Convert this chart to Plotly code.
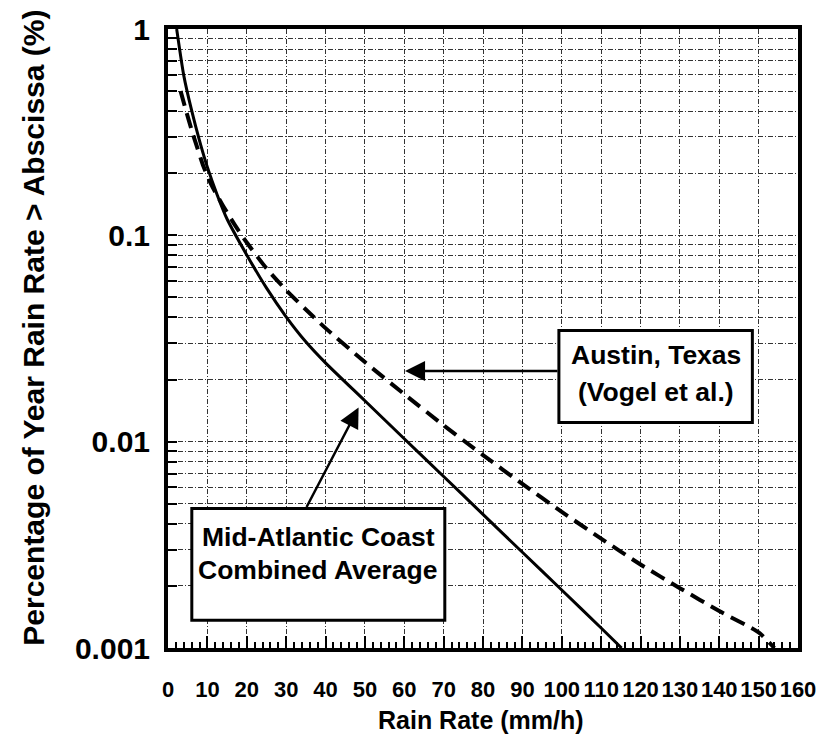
import plotly.graph_objects as go

# Mid-Atlantic Coast combined average (solid)
mid_x = [2.2, 4, 6, 8, 10, 12.5, 15, 20, 25, 30, 35, 40, 50, 60, 70, 80, 90, 100, 110, 115.2]
mid_y = [1.0, 0.596, 0.403, 0.288, 0.214, 0.157, 0.120, 0.0804, 0.0556, 0.0403, 0.0305, 0.0241,
         0.01578, 0.01033, 0.00678, 0.00444, 0.00291, 0.00191, 0.00125, 0.00100]

# Austin, Texas (Vogel et al.) (dashed)
aus_x = [3.2, 4.5, 6, 7, 9, 11, 13.6, 17, 20, 25, 30, 35, 40, 50, 60, 70, 80, 90, 100, 110, 120, 130, 140, 150, 154]
aus_y = [0.50, 0.407, 0.324, 0.282, 0.216, 0.176, 0.143, 0.112, 0.0923, 0.0692, 0.0543, 0.0437, 0.0355,
         0.0243, 0.0170, 0.0120, 0.00861, 0.00624, 0.00457, 0.00339, 0.00254, 0.00195, 0.00151, 0.00119, 0.00100]

x_ticks = list(range(0, 161, 10))
x_ticktext = [str(v) for v in x_ticks]
y_major = [0.001, 0.01, 0.1, 1]
y_major_text = ["0.001", "0.01", "0.1", "1"]
y_ticks = [m * 10 ** e for e in (-3, -2, -1) for m in range(1, 10)] + [1]
y_ticktext = [y_major_text[y_major.index(v)] if v in y_major else "" for v in y_ticks]

FONT = "Liberation Sans, Arial, sans-serif"
L, R, T, B = 168, 25, 22, 101
W, H = 828, 749
PW, PH = W - L - R, H - T - B


def px(xp):
    return (xp - L) / PW


def py(yp):
    return (H - B - yp) / PH


fig = go.Figure()
fig.add_trace(go.Scatter(x=mid_x, y=mid_y, mode="lines",
                         line=dict(color="black", width=3, shape="spline", smoothing=0.6),
                         showlegend=False))
fig.add_trace(go.Scatter(x=aus_x, y=aus_y, mode="lines",
                         line=dict(color="black", width=4, dash="15px,8px", shape="spline", smoothing=0.6),
                         showlegend=False))

grid = dict(gridcolor="#333", gridwidth=1, griddash="5px,2px,1px,2px")

fig.update_xaxes(range=[0, 160], tickvals=x_ticks, ticktext=x_ticktext, ticks="inside", ticklen=12,
                 tickwidth=2, tickcolor="black", showline=True, linecolor="black", linewidth=4, mirror=True,
                 showgrid=True, zeroline=False, ticklabelstandoff=19,
                 tickfont=dict(family=FONT, size=22, color="black", weight="bold"),
                 minor=dict(dtick=2, ticks="inside", ticklen=6, tickwidth=1.5, tickcolor="black", showgrid=False),
                 **grid)
fig.update_yaxes(type="log", range=[-3, 0], tickvals=y_ticks, ticktext=y_ticktext, ticks="inside", ticklen=9,
                 tickwidth=2, tickcolor="black", showline=True, linecolor="black", linewidth=4, mirror=True,
                 showgrid=True, zeroline=False, ticklabelstandoff=8,
                 tickfont=dict(family=FONT, size=30, color="black", weight="bold"),
                 **grid)

# label boxes
fig.add_shape(type="rect", xref="paper", yref="paper", x0=px(562), x1=px(757), y0=py(420), y1=py(327),
              line=dict(color="black", width=3), fillcolor="white", layer="above")
fig.add_shape(type="rect", xref="paper", yref="paper", x0=px(192), x1=px(447), y0=py(620), y1=py(507),
              line=dict(color="black", width=3), fillcolor="white", layer="above")

box_font = dict(family=FONT, size=26.5, color="black", weight="bold")
for text, xc, yc in [("Austin, Texas", 660, 352), ("(Vogel et al.)", 660, 389),
                     ("Mid-Atlantic Coast", 319.5, 536), ("Combined Average", 319.5, 569)]:
    fig.add_annotation(x=px(xc), y=py(yc), xref="paper", yref="paper", text=text, showarrow=False,
                       font=box_font, xanchor="center", yanchor="middle")

# arrows
fig.add_annotation(x=60.2, y=-1.658, xref="x", yref="y", ax=99.3, ay=-1.658, axref="x", ayref="y",
                   text="", showarrow=True, arrowhead=2, arrowsize=1.6, arrowwidth=2.5, arrowcolor="black")
fig.add_annotation(x=48.4, y=-1.835, xref="x", yref="y", ax=35.0, ay=-2.324, axref="x", ayref="y",
                   text="", showarrow=True, arrowhead=2, arrowsize=1.6, arrowwidth=2.5, arrowcolor="black")

# axis titles
fig.add_annotation(x=px(483), y=py(721), xref="paper", yref="paper", text="Rain Rate (mm/h)", showarrow=False,
                   font=dict(family=FONT, size=25, color="black", weight="bold"), yanchor="middle")
fig.add_annotation(x=px(33), y=py(324), xref="paper", yref="paper",
                   text="Percentage of Year Rain Rate &gt; Abscissa (%)", showarrow=False, textangle=-90,
                   font=dict(family=FONT, size=30, color="black", weight="bold"), xanchor="center", yanchor="middle")

fig.update_layout(width=W, height=H, margin=dict(l=L, r=R, t=T, b=B),
                  plot_bgcolor="white", paper_bgcolor="white", font=dict(family=FONT))
fig.write_html("out.html")
